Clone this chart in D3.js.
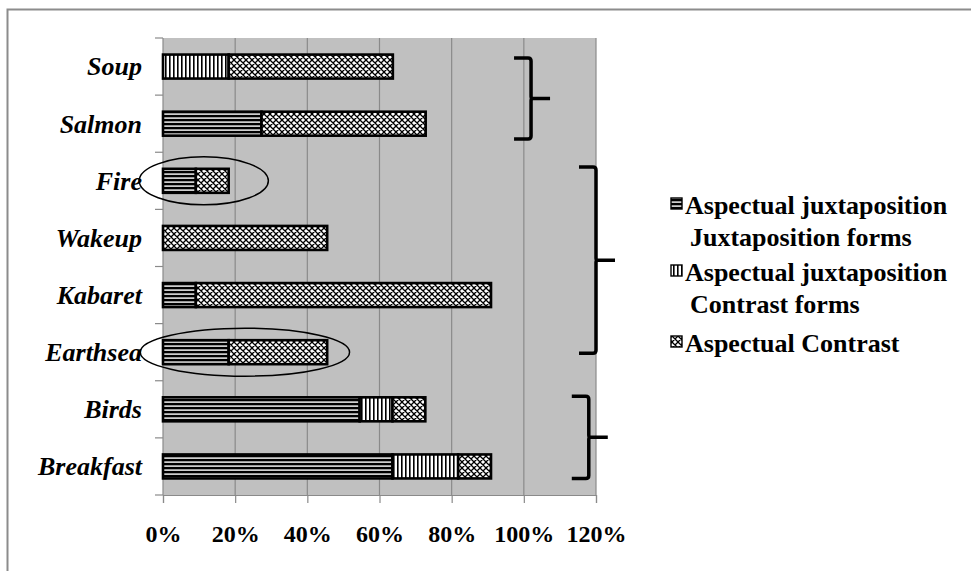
<!DOCTYPE html>
<html><head><meta charset="utf-8">
<script src="https://cdn.jsdelivr.net/npm/d3@7"></script>
<style>body{margin:0;background:#fff}svg{display:block}</style>
</head><body>
<svg id="c" width="971" height="571"></svg>
<script>
const categories = ["Soup","Salmon","Fire","Wakeup","Kabaret","Earthsea","Birds","Breakfast"];
const juxtapositionForms = [0, 0.273, 0.091, 0, 0.091, 0.182, 0.545, 0.636];
const contrastForms      = [0.182, 0, 0, 0, 0, 0, 0.091, 0.182];
const aspectualContrast  = [0.455, 0.455, 0.091, 0.455, 0.818, 0.273, 0.091, 0.091];
const seriesNames = [["Aspectual juxtaposition","Juxtaposition forms"],["Aspectual juxtaposition","Contrast forms"],["Aspectual Contrast"]];
const xTicks = [0, 0.2, 0.4, 0.6, 0.8, 1.0, 1.2];
const xTickLabels = ["0%","20%","40%","60%","80%","100%","120%"];
// annotations: braces [firstCat, topFrac, lastCat, bottomFrac, xValue]
const braces = [["Soup",0.35,"Salmon",0.77,1.02],["Fire",0.26,"Earthsea",0.52,1.2],["Birds",0.27,"Breakfast",0.71,1.18]];
// ellipses [category, centerValue, radiusValue]
const ellipses = [["Fire",0.113,0.179],["Earthsea",0.227,0.29]];

const svg = d3.select("#c");
const font = "'Liberation Serif','Times New Roman',serif";
const L = 163, R = 596, T = 38, B = 495;

const defs = svg.append("defs");
// horizontal stripes
const ph = defs.append("pattern").attr("id","pH").attr("patternUnits","userSpaceOnUse").attr("width",8).attr("height",4);
ph.append("rect").attr("width",8).attr("height",4).attr("fill","#000");
ph.append("rect").attr("y",1.4).attr("width",8).attr("height",1.4).attr("fill","#fff");
// vertical stripes
const pv = defs.append("pattern").attr("id","pV").attr("patternUnits","userSpaceOnUse").attr("width",4).attr("height",8);
pv.append("rect").attr("width",4).attr("height",8).attr("fill","#fff");
pv.append("rect").attr("x",1).attr("width",1.6).attr("height",8).attr("fill","#000");
// cross hatch
const pc = defs.append("pattern").attr("id","pC").attr("patternUnits","userSpaceOnUse").attr("width",6).attr("height",6);
pc.append("rect").attr("width",6).attr("height",6).attr("fill","#fff");
pc.append("path").attr("d","M0,0L6,6M6,0L0,6M-1,5L1,7M5,-1L7,1M-1,1L1,-1M5,7L7,5").attr("stroke","#000").attr("stroke-width",1.3);
const fills = ["url(#pH)","url(#pV)","url(#pC)"];

// outer frame
svg.append("path").attr("d","M7.5,571V9.5H971").attr("fill","none").attr("stroke","#8c8c8c").attr("stroke-width",2);

const x = d3.scaleLinear().domain([0,1.2]).range([L,R]);
const y = d3.scaleBand().domain(categories).range([T,B]).paddingInner(0.58).paddingOuter(0.29);

svg.append("rect").attr("x",L).attr("y",T).attr("width",R-L).attr("height",B-T).attr("fill","#c0c0c0");
svg.append("g").selectAll("line").data(xTicks.slice(1)).join("line")
  .attr("x1",d=>x(d)).attr("x2",d=>x(d)).attr("y1",T).attr("y2",B)
  .attr("stroke","#8a8a8a").attr("stroke-width",1.2);

// x axis
const xa = svg.append("g").attr("transform",`translate(0,${B})`)
  .call(d3.axisBottom(x).tickValues(xTicks).tickFormat((d,i)=>xTickLabels[i]).tickSize(8).tickPadding(22));
xa.select(".domain").attr("stroke","#8a8a8a").attr("stroke-width",1.2);
xa.selectAll(".tick line").attr("stroke","#8a8a8a").attr("stroke-width",1.2);
xa.selectAll("text").attr("font-family",font).attr("font-weight","bold").attr("font-size",24).attr("fill","#000");

// y axis
const step = y.step();
const boundaries = d3.range(categories.length+1).map(i=>T + i*step);
svg.append("g").selectAll("line").data(boundaries).join("line")
  .attr("x1",L-8).attr("x2",L).attr("y1",d=>d).attr("y2",d=>d).attr("stroke","#8a8a8a").attr("stroke-width",1.2);
svg.append("line").attr("x1",L).attr("x2",L).attr("y1",T).attr("y2",B).attr("stroke","#8a8a8a").attr("stroke-width",1.2);
svg.append("g").selectAll("text").data(categories).join("text")
  .attr("x",L-21).attr("y",d=>y(d)+y.bandwidth()/2).attr("dy","0.34em")
  .attr("text-anchor","end").attr("font-family",font).attr("font-weight","bold").attr("font-style","italic")
  .attr("font-size",26).text(d=>d);

// bars
const stackData = categories.map((c,i)=>({cat:c, s0:juxtapositionForms[i], s1:contrastForms[i], s2:aspectualContrast[i]}));
const stacked = d3.stack().keys(["s0","s1","s2"])(stackData);
svg.append("g").selectAll("g").data(stacked).join("g").attr("fill",(d,i)=>fills[i])
  .selectAll("rect").data(d=>d.filter(p=>p[1]-p[0]>0)).join("rect")
  .attr("x",d=>x(d[0])).attr("width",d=>x(d[1])-x(d[0]))
  .attr("y",d=>y(d.data.cat)).attr("height",y.bandwidth())
  .attr("stroke","#000").attr("stroke-width",2.6);

// ellipses
svg.append("g").selectAll("ellipse").data(ellipses).join("ellipse")
  .attr("cx",d=>x(d[1])).attr("cy",d=>y(d[0])+y.bandwidth()/2)
  .attr("rx",d=>x(d[2])-x(0)).attr("ry",24)
  .attr("fill","none").attr("stroke","#000").attr("stroke-width",1.5);

// braces
function bracePath(x0, y0, y1, hook, tip){
  const ym = (y0+y1)/2, r = 3;
  return `M${x0-hook},${y0} L${x0-r},${y0} Q${x0},${y0} ${x0},${y0+r} L${x0},${ym-2} Q${x0},${ym} ${x0+2},${ym} L${x0+tip},${ym} M${x0+2},${ym} Q${x0},${ym} ${x0},${ym+2} L${x0},${y1-r} Q${x0},${y1} ${x0-r},${y1} L${x0-hook},${y1}`;
}
svg.append("g").selectAll("path").data(braces).join("path")
  .attr("d",d=>bracePath(x(d[4]), y(d[0]) - y.step()*y.paddingInner()/2 + d[1]*step, y(d[2]) - y.step()*y.paddingInner()/2 + d[3]*step, 17, 19))
  .attr("fill","none").attr("stroke","#000").attr("stroke-width",3.5);

// legend
const legendY = [214, 281, 352];
const lg = svg.append("g");
seriesNames.forEach((lines,i)=>{
  lg.append("rect").attr("x",671).attr("y",legendY[i]-16).attr("width",11).attr("height",11)
    .attr("fill",fills[i]).attr("stroke","#000").attr("stroke-width",1.4);
  lines.forEach((t,j)=>{
    lg.append("text").attr("x",j===0?685:690).attr("y",legendY[i]+j*32)
      .attr("font-family",font).attr("font-weight","bold").attr("font-size",26).text(t);
  });
});
</script>
</body></html>
